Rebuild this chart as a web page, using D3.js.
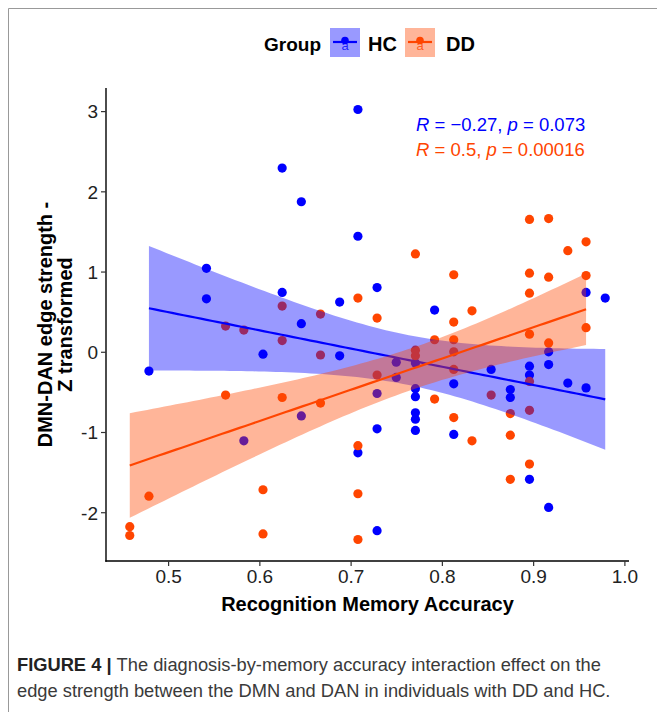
<!DOCTYPE html>
<html>
<head>
<meta charset="utf-8">
<script src="https://cdn.jsdelivr.net/npm/d3@7"></script>
<style>
  body { margin: 0; background: #fff; }
  svg { display: block; font-family: "Liberation Sans", Arial, sans-serif; }
</style>
</head>
<body>
<svg id="chart" width="657" height="712"></svg>
<script>
// groups
var groups = ['HC', 'DD'];
var groupColors = ['#0000ff', '#ff4500'];
var statLabels = [
  ['R', ' = \u22120.27, ', 'p', ' = 0.073'],
  ['R', ' = 0.5, ', 'p', ' = 0.00016']
];

// HC: recognition memory accuracy / edge strength
var hcAcc = [0.708, 0.625, 0.646, 0.708, 0.542, 0.542, 0.625, 0.646, 0.688, 0.729,
  0.604, 0.688, 0.479, 0.729, 0.646, 0.583, 0.729, 0.708, 0.729, 0.896,
  0.917, 0.958, 0.979, 0.792, 0.917, 0.917, 0.771, 0.750, 0.750, 0.771,
  0.771, 0.813, 0.854, 0.875, 0.875, 0.896, 0.896, 0.938, 0.958, 0.771,
  0.771, 0.771, 0.813];
var hcEdge = [3.02, 2.29, 1.87, 1.44, 1.04, 0.66, 0.74, 0.35, 0.62, 0.80,
  -0.03, -0.05, -0.24, -0.52, -0.80, -1.11, -0.96, -1.26, -2.23, -1.59,
  -1.94, 0.74, 0.67, 0.52, 0.00, -0.16, -0.14, -0.13, -0.32, -0.46,
  -0.56, -0.40, -0.22, -0.47, -0.57, -0.18, -0.29, -0.39, -0.45, -0.76,
  -0.84, -0.98, -1.03];

// DD
var ddAcc = [0.896, 0.917, 0.958, 0.938, 0.771, 0.813, 0.896, 0.917, 0.958, 0.625,
  0.667, 0.708, 0.729, 0.563, 0.583, 0.625, 0.667, 0.729, 0.563, 0.625,
  0.667, 0.708, 0.479, 0.604, 0.708, 0.458, 0.458, 0.604, 0.708, 0.896,
  0.875, 0.833, 0.896, 0.833, 0.813, 0.792, 0.813, 0.896, 0.958, 0.917,
  0.813, 0.813, 0.771, 0.771, 0.792, 0.854, 0.896, 0.896, 0.813, 0.875,
  0.875];
var ddEdge = [1.65, 1.66, 1.37, 1.26, 1.22, 0.96, 0.98, 0.93, 0.95, 0.57,
  0.47, 0.67, 0.42, 0.32, 0.27, 0.14, -0.04, -0.29, -0.54, -0.57,
  -0.64, -1.17, -1.80, -1.72, -1.77, -2.18, -2.29, -2.27, -2.34, -1.40,
  -1.59, -1.11, 0.73, 0.51, 0.37, 0.15, 0.15, 0.22, 0.30, 0.11,
  0.00, -0.22, 0.02, -0.05, -0.59, -0.54, -0.37, -0.73, -0.82, -0.77,
  -1.04];

var xTicks = [0.5, 0.6, 0.7, 0.8, 0.9, 1.0];
var yTicks = [-2, -1, 0, 1, 2, 3];

var series = [
  {name: 'HC', x: hcAcc, y: hcEdge},
  {name: 'DD', x: ddAcc, y: ddEdge}
];

var svg = d3.select('#chart');
var plotL = 106, plotR = 629, plotT = 88, plotB = 561;

// frame around figure
svg.append('path')
  .attr('d', 'M8.5,712 L8.5,8.5 L657,8.5')
  .attr('fill', 'none').attr('stroke', '#999').attr('stroke-width', 1);

// ggplot-like 5% expansion
var allX = hcAcc.concat(ddAcc), allY = hcEdge.concat(ddEdge);
var xe = d3.extent(allX), ye = d3.extent(allY);
var xPad = (xe[1] - xe[0]) * 0.05, yPad = (ye[1] - ye[0]) * 0.05;
var x = d3.scaleLinear().domain([xe[0] - xPad, xe[1] + xPad]).range([plotL, plotR]);
var y = d3.scaleLinear().domain([ye[0] - yPad, ye[1] + yPad]).range([plotB, plotT]);

function tq975(df){
  var z = 1.959964;
  return z + (z*z*z + z)/(4*df) + (5*Math.pow(z,5) + 16*z*z*z + 3*z)/(96*df*df);
}

function linFit(xs, ys){
  var n = xs.length, mx = d3.mean(xs), my = d3.mean(ys);
  var sxx = 0, sxy = 0;
  xs.forEach(function(v, i){ sxx += (v-mx)*(v-mx); sxy += (v-mx)*(ys[i]-my); });
  var b = sxy/sxx, a = my - b*mx;
  var sse = 0;
  xs.forEach(function(v, i){ var r = ys[i] - (a + b*v); sse += r*r; });
  var s = Math.sqrt(sse/(n-2)), t = tq975(n-2);
  var lo = d3.min(xs), hi = d3.max(xs);
  return d3.range(80).map(function(i){
    var xv = lo + i*(hi-lo)/79;
    var fv = a + b*xv;
    var se = s*Math.sqrt(1/n + (xv-mx)*(xv-mx)/sxx);
    return {x: xv, y: fv, lo: fv - t*se, hi: fv + t*se};
  });
}

// points
series.forEach(function(s, gi){
  svg.append('g').selectAll('circle')
    .data(s.x.map(function(v, i){ return [v, s.y[i]]; }))
    .enter().append('circle')
    .attr('cx', function(d){ return x(d[0]); })
    .attr('cy', function(d){ return y(d[1]); })
    .attr('r', 4.6)
    .attr('fill', groupColors[gi]);
});

// regression ribbons + lines
var area = d3.area().x(function(d){ return x(d.x); })
  .y0(function(d){ return y(d.lo); }).y1(function(d){ return y(d.hi); });
var line = d3.line().x(function(d){ return x(d.x); }).y(function(d){ return y(d.y); });
series.forEach(function(s, gi){
  var fit = linFit(s.x, s.y);
  svg.append('path').datum(fit).attr('d', area)
    .attr('fill', groupColors[gi]).attr('fill-opacity', 0.4);
  svg.append('path').datum(fit).attr('d', line)
    .attr('fill', 'none').attr('stroke', groupColors[gi]).attr('stroke-width', 2.2);
});

// axes
var gx = svg.append('g').attr('transform', 'translate(0,' + plotB + ')')
  .call(d3.axisBottom(x).tickValues(xTicks).tickFormat(d3.format('.1f')).tickSize(5).tickSizeOuter(0));
var gy = svg.append('g').attr('transform', 'translate(' + plotL + ',0)')
  .call(d3.axisLeft(y).tickValues(yTicks).tickFormat(function(d){ return String(d); })
    .tickSize(5).tickSizeOuter(0));
[gx, gy].forEach(function(g){
  g.select('.domain').attr('stroke', '#000').attr('stroke-width', 1.4);
  g.selectAll('.tick line').attr('stroke', '#333').attr('stroke-width', 1.2);
  g.selectAll('.tick text').attr('fill', '#222').style('font-size', '19px')
    .style('font-family', '"Liberation Sans", Arial, sans-serif');
});
gx.select('.domain').attr('d', 'M' + (plotL - 0.7) + ',0H' + plotR);
gy.select('.domain').attr('d', 'M0,' + plotT + 'V' + (plotB + 0.7));
gx.selectAll('.tick text').attr('y', 9);
gy.selectAll('.tick text').attr('x', -8).attr('dy', '0.36em');

// axis titles
svg.append('text').attr('x', (plotL + plotR)/2).attr('y', 611)
  .attr('text-anchor', 'middle').style('font-size', '20px').style('font-weight', 'bold')
  .text('Recognition Memory Accuracy');
var yTitle = svg.append('text').attr('transform', 'translate(0,' + (plotT + plotB)/2 + ') rotate(-90)')
  .attr('text-anchor', 'middle').style('font-size', '20px').style('font-weight', 'bold');
yTitle.append('tspan').attr('x', 0).attr('y', 52).text('DMN-DAN edge strength -');
yTitle.append('tspan').attr('x', 0).attr('y', 72).text('Z transformed');

// stat labels
statLabels.forEach(function(parts, gi){
  var t = svg.append('text').attr('x', 416).attr('y', 131 + gi*25)
    .attr('fill', groupColors[gi]).style('font-size', '18.5px');
  parts.forEach(function(p, pi){
    t.append('tspan').style('font-style', pi % 2 === 0 ? 'italic' : 'normal').text(p);
  });
});

// legend
svg.append('text').attr('x', 264).attr('y', 51).style('font-size', '19px')
  .style('font-weight', 'bold').text('Group');
var keyX = [330, 405], labX = [368, 446];
groups.forEach(function(g, gi){
  var k = svg.append('g').attr('transform', 'translate(' + keyX[gi] + ',28)');
  k.append('rect').attr('width', 30).attr('height', 29)
    .attr('fill', groupColors[gi]).attr('fill-opacity', 0.4);
  k.append('line').attr('x1', 3).attr('x2', 27).attr('y1', 14).attr('y2', 14)
    .attr('stroke', groupColors[gi]).attr('stroke-width', 2.2);
  k.append('circle').attr('cx', 15).attr('cy', 12.5).attr('r', 3.8).attr('fill', groupColors[gi]);
  k.append('text').attr('x', 15).attr('y', 21.5).attr('text-anchor', 'middle')
    .style('font-size', '13px').style('font-family', '"Liberation Sans", Arial, sans-serif')
    .attr('fill', groupColors[gi]).attr('fill-opacity', 0.8).text('a');
  svg.append('text').attr('x', labX[gi]).attr('y', 51).style('font-size', '20px')
    .style('font-weight', 'bold').text(g);
});

// caption
var cap = svg.append('g').attr('fill', '#3a3a3a').style('font-size', '18.3px');
var c1 = cap.append('text').attr('x', 17).attr('y', 671);
c1.append('tspan').style('font-weight', 'bold').attr('fill', '#222').text('FIGURE 4 | ');
c1.append('tspan').text('The diagnosis-by-memory accuracy interaction effect on the');
cap.append('text').attr('x', 17).attr('y', 697)
  .text('edge strength between the DMN and DAN in individuals with DD and HC.');
</script>
</body>
</html>
